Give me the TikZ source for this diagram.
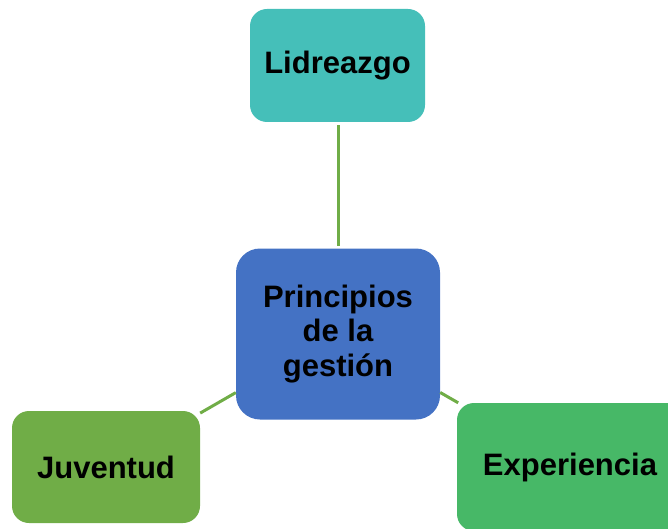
\documentclass[tikz,border=0pt]{standalone}
\usepackage{fontspec}
\setmainfont{Liberation Sans}
\definecolor{cteal}{HTML}{45BFB9}
\definecolor{cblue}{HTML}{4472C4}
\definecolor{cjuv}{HTML}{70AD47}
\definecolor{cexp}{HTML}{47B867}
\definecolor{cline}{HTML}{70AD47}
\tikzset{
  box/.style={rectangle, rounded corners=17pt, inner sep=0pt, align=center,
    font=\fontsize{31}{34.5}\selectfont\bfseries, text=black},
  link/.style={draw=cline, line width=3pt}
}
\begin{document}
\begin{tikzpicture}[x=1pt,y=1pt]
\useasboundingbox (0,0) rectangle (668,-529);
\begin{scope}
\clip (0,0) rectangle (668,-529);
\node[box, fill=cteal, minimum width=175pt, minimum height=113pt] (lid) at (337.5,-65.5) {Lidreazgo};
\node[box, fill=cblue, rounded corners=24pt, minimum width=204pt, minimum height=171pt] (pri) at (338,-334) {Principios\\de la\\gestión};
\node[box, fill=cjuv, minimum width=188pt, minimum height=112pt] (juv) at (106,-467) {Juventud};
\node[box, fill=cexp, minimum width=226pt, minimum height=128pt] (exp) at (570,-467) {Experiencia};
\path (lid.south -| pri.north) ++(0,-3pt) coordinate (lidb);
\draw[link] (lidb) -- ([yshift=2pt]pri.north);
\draw[link] (pri) -- (juv);
\draw[link] (pri) -- (exp);
\end{scope}
\end{tikzpicture}
\end{document}
